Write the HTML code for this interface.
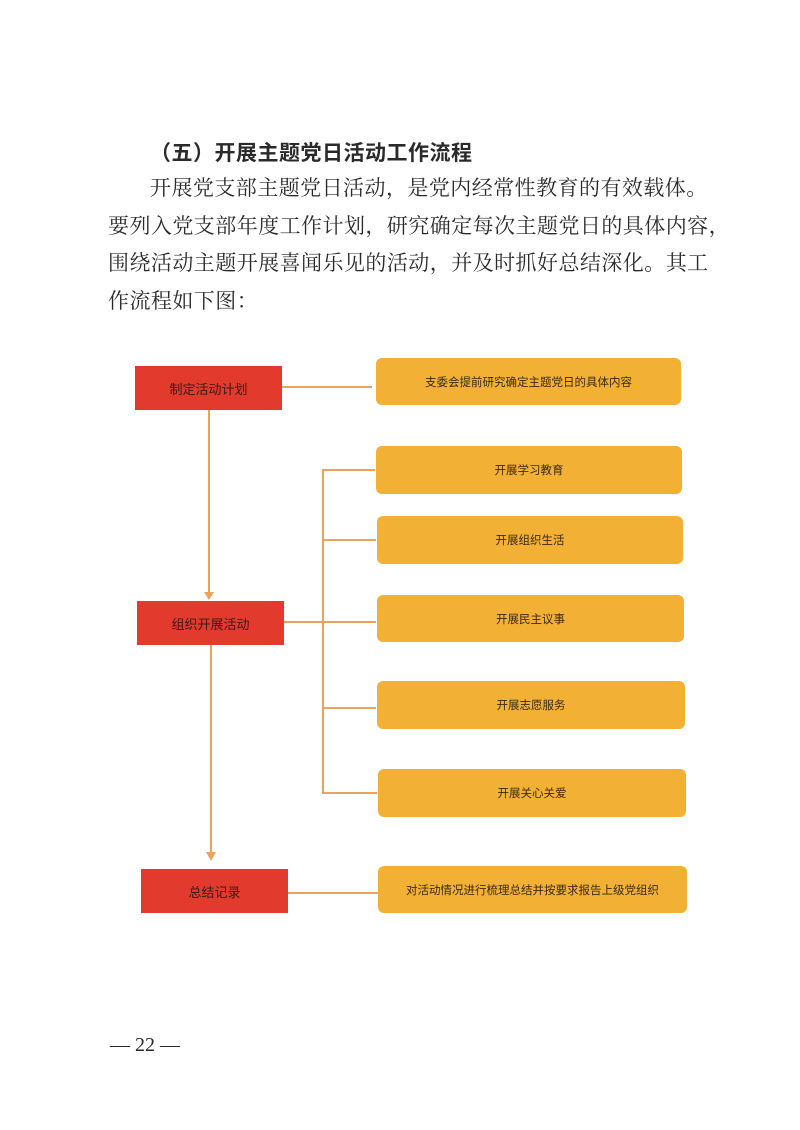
<!DOCTYPE html>
<html><head><meta charset="utf-8"><style>
body{margin:0;width:800px;height:1130px;background:#fff;position:relative;overflow:hidden;font-family:"Liberation Serif","Noto Serif CJK SC","Noto Sans CJK SC",serif;color:#2a2a2a}
.t{position:absolute;font-size:21px;letter-spacing:0.45px;white-space:nowrap;line-height:24px}
.r{position:absolute;background:#e23b2e;color:#3a1a14;font-family:"Liberation Sans","Noto Sans CJK SC",sans-serif;font-size:13px;display:flex;align-items:center;justify-content:center}
.o{position:absolute;background:#f2b134;border-radius:6px;color:#3a2a10;font-family:"Liberation Sans","Noto Sans CJK SC",sans-serif;font-size:11.5px;display:flex;align-items:center;justify-content:center}
.l{position:absolute;background:#e9a35c}
</style></head><body>
<div class="t" style="left:150px;top:140px;font-family:'Noto Sans CJK SC',sans-serif;font-weight:bold;letter-spacing:0.5px">（五）开展主题党日活动工作流程</div>
<div class="t" style="left:150px;top:176px">开展党支部主题党日活动，是党内经常性教育的有效载体。</div>
<div class="t" style="left:108px;top:214px">要列入党支部年度工作计划，研究确定每次主题党日的具体内容，</div>
<div class="t" style="left:108px;top:251px">围绕活动主题开展喜闻乐见的活动，并及时抓好总结深化。其工</div>
<div class="t" style="left:108px;top:289px">作流程如下图：</div>

<div class="r" style="left:135px;top:366px;width:147px;height:44px">制定活动计划</div>
<div class="o" style="left:376px;top:358px;width:305px;height:47px">支委会提前研究确定主题党日的具体内容</div>
<div class="l" style="left:282px;top:386px;width:90px;height:2px"></div>

<div class="l" style="left:208px;top:410px;width:2px;height:184px"></div>
<div style="position:absolute;left:204px;top:592px;border-left:5px solid transparent;border-right:5px solid transparent;border-top:8px solid #e9a35c"></div>

<div class="r" style="left:137px;top:601px;width:147px;height:44px">组织开展活动</div>
<div class="l" style="left:284px;top:621px;width:92px;height:2px"></div>

<div class="l" style="left:322px;top:469px;width:2px;height:325px"></div>
<div class="l" style="left:322px;top:469px;width:53px;height:2px"></div>
<div class="l" style="left:322px;top:539px;width:54px;height:2px"></div>
<div class="l" style="left:322px;top:707px;width:54px;height:2px"></div>
<div class="l" style="left:322px;top:792px;width:55px;height:2px"></div>

<div class="o" style="left:376px;top:446px;width:306px;height:48px">开展学习教育</div>
<div class="o" style="left:377px;top:516px;width:306px;height:48px">开展组织生活</div>
<div class="o" style="left:377px;top:595px;width:307px;height:47px">开展民主议事</div>
<div class="o" style="left:377px;top:681px;width:308px;height:48px">开展志愿服务</div>
<div class="o" style="left:378px;top:769px;width:308px;height:48px">开展关心关爱</div>

<div class="l" style="left:210px;top:645px;width:2px;height:208px"></div>
<div style="position:absolute;left:206px;top:852px;border-left:5px solid transparent;border-right:5px solid transparent;border-top:9px solid #e9a35c"></div>

<div class="r" style="left:141px;top:869px;width:147px;height:44px">总结记录</div>
<div class="l" style="left:288px;top:892px;width:90px;height:2px"></div>
<div class="o" style="left:378px;top:866px;width:309px;height:47px">对活动情况进行梳理总结并按要求报告上级党组织</div>

<div class="t" style="left:110px;top:1033px;font-size:20px;letter-spacing:0">— 22 —</div>
</body></html>
